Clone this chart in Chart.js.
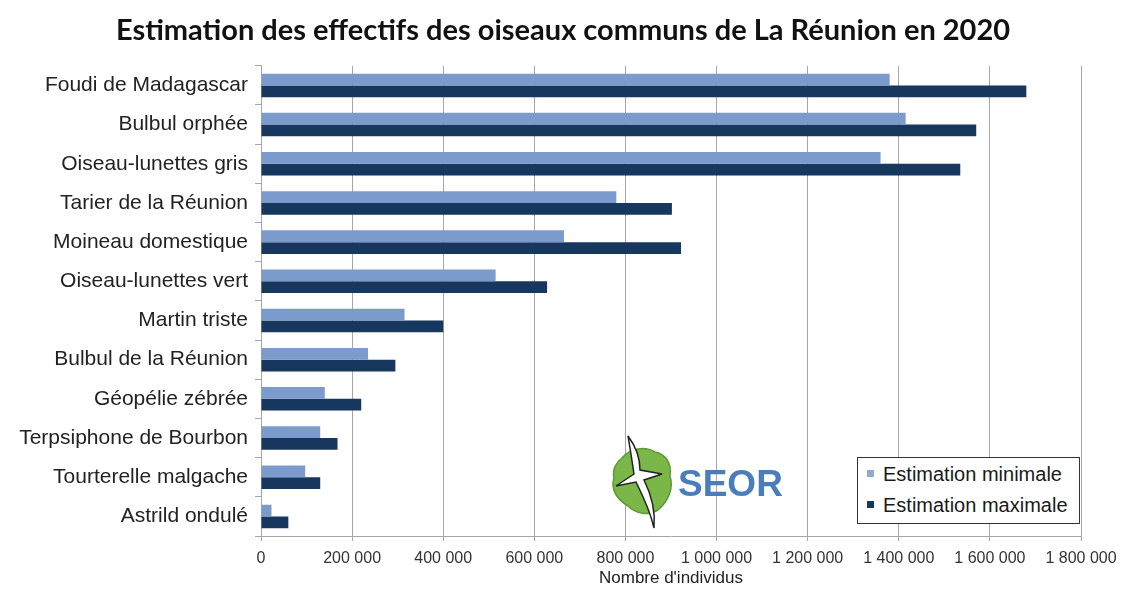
<!DOCTYPE html>
<html lang="fr">
<head>
<meta charset="utf-8">
<title>Oiseaux communs de La Réunion</title>
<script src="https://cdn.jsdelivr.net/npm/chart.js@4.4.1/dist/chart.umd.min.js"></script>
<style>
  html, body { margin: 0; padding: 0; background: #ffffff; }
  #wrap { position: relative; width: 1126px; height: 590px; }
  #legende {
    position: absolute; left: 857px; top: 457px; width: 221px; height: 65px;
    border: 1px solid #333; background: #fff;
    font-family: "Liberation Sans", Arial, sans-serif; font-size: 20px; color: #1a1a1a;
  }
  #legende div { position: absolute; left: 9px; white-space: nowrap; }
  #legende span { display: inline-block; width: 7px; height: 7px; margin-right: 9px; vertical-align: 4px; }
  #logo { position: absolute; left: 600px; top: 430px; }
</style>
</head>
<body>
<div id="wrap">
  <canvas id="chart" width="1126" height="590"></canvas>

  <!-- logo SEOR, dessiné grossièrement -->
  <svg id="logo" width="190" height="105" viewBox="0 0 190 105">
    <path d="M22 28 C30 18 45 16 55 22 C66 24 72 34 70 46 C74 58 68 72 58 80 C48 86 36 84 28 76 C18 70 10 60 14 48 C12 40 16 32 22 28 Z" fill="#7ab648" stroke="#5e9a34" stroke-width="1.5"/>
    <path d="M28 6 C34 14 40 26 40 40 L62 44 L44 50 C50 62 56 78 54 98 C50 80 42 64 36 52 L16 56 L34 44 C32 30 30 18 28 6 Z" fill="#ffffff" stroke="#222" stroke-width="1.5"/>
    <text x="78" y="66" font-family="Liberation Sans, Arial, sans-serif" font-weight="bold" font-size="37" fill="#4a7ebb">SEOR</text>
  </svg>

  <div id="legende">
    <div style="top: 5px;"><span style="background:#8fa9cf;"></span>Estimation minimale</div>
    <div style="top: 36px;"><span style="background:#17375e;"></span>Estimation maximale</div>
  </div>
</div>

<script>
// Espèces (de haut en bas)
const especes = [
  "Foudi de Madagascar",
  "Bulbul orphée",
  "Oiseau-lunettes gris",
  "Tarier de la Réunion",
  "Moineau domestique",
  "Oiseau-lunettes vert",
  "Martin triste",
  "Bulbul de la Réunion",
  "Géopélie zébrée",
  "Terpsiphone de Bourbon",
  "Tourterelle malgache",
  "Astrild ondulé",
];

// Effectifs estimés
const estimationMin = [1380000, 1415000, 1360000, 780000, 665000, 515000, 315000, 235000, 140000, 130000, 97000, 23000];
const estimationMax = [1680000, 1570000, 1535000, 902000, 922000, 628000, 400000, 295000, 220000, 168000, 130000, 60000];

// Graduations de l'axe horizontal
const xMin = 0;
const xMax = 1800000;
const xPas = 200000;

// Couleurs des barres
const couleurMin = "#7b9bcc";
const couleurMax = "#17375e";
const couleurGrille = "#a6a6a6";

// Formatage "1 800 000"
const formatNombre = (v) => String(v).replace(/\B(?=(\d{3})+(?!\d))/g, " ");

new Chart(document.getElementById("chart"), {
  type: "bar",
  data: {
    labels: especes,
    datasets: [
      {
        label: "Estimation minimale",
        data: estimationMin,
        backgroundColor: couleurMin,
        barPercentage: 1,
        categoryPercentage: 0.6,
      },
      {
        label: "Estimation maximale",
        data: estimationMax,
        backgroundColor: couleurMax,
        barPercentage: 1,
        categoryPercentage: 0.6,
      },
    ],
  },
  options: {
    indexAxis: "y",
    responsive: false,
    animation: false,
    layout: {
      padding: 0,
    },
    plugins: {
      legend: { display: false },
      tooltip: { enabled: false },
      title: {
        display: true,
        text: "Estimation des effectifs des oiseaux communs de La Réunion en 2020",
        color: "#111",
        font: { family: "Lato", size: 29, weight: "bold" },
        padding: { top: 13, bottom: 18 },
      },
    },
    scales: {
      x: {
        min: xMin,
        max: xMax,
        ticks: {
          stepSize: xPas,
          color: "#333",
          font: { family: "Liberation Sans", size: 16 },
          padding: 8,
          maxRotation: 0,
          callback: (v) => formatNombre(v),
        },
        grid: {
          color: couleurGrille,
          lineWidth: 1,
          tickLength: 5,
        },
        border: { color: couleurGrille },
        title: {
          display: true,
          text: "Nombre d'individus",
          color: "#222",
          font: { family: "Liberation Sans", size: 17 },
          padding: { top: 0, bottom: 1 },
        },
        afterFit: (scale) => { scale.height = 54; },
      },
      y: {
        ticks: {
          color: "#222",
          font: { family: "Liberation Sans", size: 21 },
          padding: 7,
        },
        grid: {
          drawOnChartArea: false,
          color: couleurGrille,
          tickLength: 6,
        },
        border: { color: couleurGrille },
        afterFit: (scale) => { scale.width = 261; },
      },
      // axe vide à droite : réserve la marge droite, le titre reste centré sur la page
      yVide: {
        type: "category",
        position: "right",
        ticks: { display: false },
        grid: { display: false },
        border: { display: false },
        afterFit: (scale) => { scale.width = 45; },
      },
    },
  },
});
</script>
</body>
</html>
